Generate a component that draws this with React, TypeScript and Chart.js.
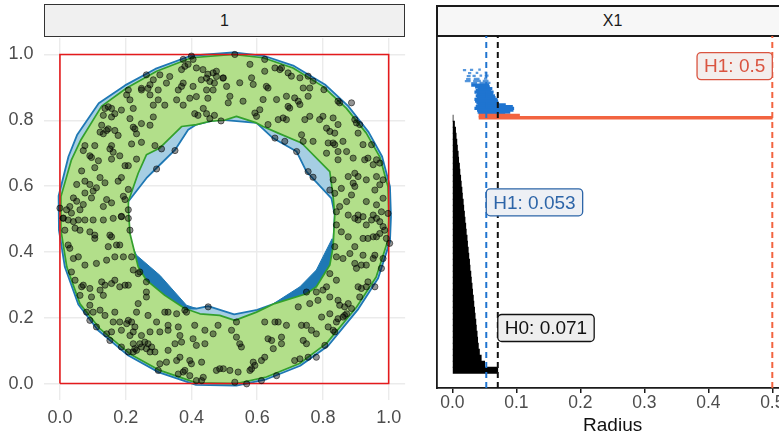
import React, { useEffect, useRef } from 'react';
import { Chart, registerables } from 'chart.js';

Chart.register(...registerables);

const FONT = '"Liberation Sans", Arial, Helvetica, sans-serif';

// ---------- Left panel (facet "1") ----------
const stripLeftText = '1';
const leftTickValues = [0, 0.2, 0.4, 0.6, 0.8, 1.0];
const boundingBox: [number, number][] = [[0, 0], [1, 0], [1, 1], [0, 1], [0, 0]];

const ringPoints: [number, number][] = [
  [0.40, 0.995], [0.375, 0.985], [0.405, 0.985], [0.38, 0.964], [0.39, 0.97], [0.37, 0.954], [0.415, 0.959], [0.435, 0.954],
  [0.45, 0.94], [0.466, 0.944], [0.476, 0.949], [0.496, 0.928], [0.476, 0.933], [0.446, 0.928], [0.43, 0.923], [0.456, 0.918],
  [0.47, 0.913], [0.466, 0.892], [0.446, 0.892], [0.415, 0.872], [0.395, 0.867], [0.45, 0.867], [0.436, 0.836], [0.41, 0.82],
  [0.42, 0.815], [0.446, 0.82], [0.47, 0.815], [0.49, 0.798], [0.456, 0.805], [0.405, 0.903], [0.375, 0.913], [0.37, 0.903],
  [0.36, 0.892], [0.355, 0.862], [0.375, 0.846], [0.334, 0.933], [0.324, 0.913], [0.304, 0.938], [0.284, 0.923], [0.263, 0.938],
  [0.274, 0.908], [0.268, 0.897], [0.248, 0.892], [0.299, 0.892], [0.299, 0.862], [0.319, 0.846], [0.284, 0.846], [0.274, 0.877],
  [0.208, 0.892], [0.203, 0.877], [0.213, 0.862], [0.223, 0.836], [0.187, 0.831], [0.167, 0.82], [0.157, 0.836], [0.147, 0.841],
  [0.137, 0.836], [0.132, 0.815], [0.157, 0.81], [0.127, 0.785], [0.122, 0.764], [0.147, 0.774], [0.142, 0.769], [0.132, 0.759],
  [0.167, 0.769], [0.177, 0.754], [0.213, 0.805], [0.223, 0.779], [0.233, 0.759], [0.228, 0.774], [0.274, 0.785], [0.284, 0.81],
  [0.289, 0.723], [0.309, 0.713], [0.248, 0.733], [0.218, 0.728], [0.157, 0.723], [0.152, 0.713], [0.162, 0.703], [0.182, 0.692],
  [0.157, 0.682], [0.117, 0.677], [0.091, 0.692], [0.096, 0.687], [0.076, 0.723], [0.106, 0.723], [0.071, 0.708], [0.106, 0.656],
  [0.122, 0.626], [0.137, 0.61], [0.111, 0.595], [0.101, 0.585], [0.142, 0.559], [0.177, 0.615], [0.187, 0.626], [0.198, 0.662],
  [0.208, 0.662], [0.233, 0.682], [0.208, 0.59], [0.193, 0.569], [0.198, 0.559], [0.157, 0.549], [0.187, 0.508], [0.091, 0.605],
  [0.076, 0.615], [0.051, 0.605], [0.066, 0.646], [0.076, 0.579], [0.096, 0.564], [0.071, 0.544], [0.041, 0.564], [0.051, 0.554],
  [0.03, 0.538], [0.02, 0.528], [0.0, 0.533], [0.035, 0.518], [0.01, 0.503], [0.061, 0.528], [0.132, 0.538], [0.208, 0.528],
  [0.248, 0.79], [0.248, 0.897], [0.35, 0.708], [0.294, 0.652],
  [0.532, 1.0], [0.497, 0.929], [0.507, 0.903], [0.517, 0.873], [0.512, 0.853], [0.547, 0.914], [0.557, 0.858], [0.583, 0.929],
  [0.588, 0.909], [0.593, 0.822], [0.598, 0.812], [0.608, 0.832], [0.618, 0.863], [0.623, 0.949], [0.628, 0.903], [0.633, 0.898],
  [0.654, 0.959], [0.669, 0.954], [0.674, 0.959], [0.694, 0.944], [0.704, 0.934], [0.73, 0.929], [0.659, 0.863], [0.689, 0.873],
  [0.714, 0.868], [0.725, 0.858], [0.73, 0.848], [0.694, 0.842], [0.699, 0.837], [0.755, 0.873], [0.74, 0.898], [0.76, 0.898],
  [0.77, 0.919], [0.755, 0.934], [0.689, 0.802], [0.679, 0.807], [0.664, 0.802], [0.633, 0.787], [0.745, 0.802], [0.76, 0.812],
  [0.79, 0.802], [0.8, 0.812], [0.811, 0.776], [0.821, 0.766], [0.831, 0.807], [0.836, 0.761], [0.846, 0.787], [0.816, 0.731],
  [0.831, 0.731], [0.836, 0.726], [0.861, 0.736], [0.846, 0.705], [0.872, 0.705], [0.892, 0.685], [0.811, 0.7], [0.846, 0.68],
  [0.735, 0.756], [0.74, 0.736], [0.77, 0.736], [0.654, 0.746], [0.684, 0.736], [0.72, 0.705], [0.623, 0.985], [0.578, 0.97],
  [0.803, 0.893], [0.846, 0.858], [0.851, 0.853], [0.887, 0.853], [0.897, 0.802], [0.902, 0.792], [0.907, 0.761], [0.912, 0.787],
  [0.922, 0.726], [0.948, 0.726], [0.927, 0.68], [0.937, 0.685], [0.963, 0.68], [0.973, 0.67], [0.953, 0.665], [0.897, 0.639],
  [0.907, 0.629], [0.877, 0.629], [0.892, 0.609], [0.897, 0.599], [0.932, 0.619], [0.963, 0.629], [0.983, 0.619], [0.973, 0.604],
  [0.958, 0.588], [0.983, 0.563], [0.963, 0.543], [0.978, 0.522], [0.953, 0.512], [0.932, 0.553], [0.887, 0.573], [0.872, 0.553],
  [0.851, 0.538], [0.841, 0.522], [0.877, 0.512], [0.907, 0.512], [0.856, 0.593], [0.821, 0.588], [0.836, 0.578], [0.922, 0.507],
  [0.998, 0.517], [0.831, 0.619], [0.755, 0.644], [0.77, 0.627],
  [0.01, 0.502], [0.025, 0.497], [0.041, 0.492], [0.056, 0.497], [0.076, 0.497], [0.101, 0.497], [0.132, 0.497], [0.162, 0.502],
  [0.187, 0.507], [0.208, 0.502], [0.015, 0.466], [0.046, 0.472], [0.061, 0.466], [0.091, 0.461], [0.106, 0.451], [0.152, 0.451],
  [0.157, 0.446], [0.182, 0.421], [0.213, 0.466], [0.025, 0.421], [0.03, 0.411], [0.041, 0.38], [0.056, 0.385], [0.106, 0.441],
  [0.147, 0.416], [0.172, 0.421], [0.167, 0.385], [0.193, 0.385], [0.218, 0.385], [0.142, 0.375], [0.111, 0.365], [0.076, 0.36],
  [0.035, 0.339], [0.046, 0.314], [0.066, 0.294], [0.061, 0.268], [0.091, 0.289], [0.096, 0.263], [0.071, 0.299], [0.127, 0.309],
  [0.137, 0.299], [0.157, 0.304], [0.167, 0.314], [0.182, 0.294], [0.198, 0.299], [0.208, 0.299], [0.223, 0.345], [0.238, 0.334],
  [0.243, 0.339], [0.263, 0.309], [0.263, 0.278], [0.263, 0.263], [0.132, 0.268], [0.122, 0.284], [0.091, 0.238], [0.101, 0.217],
  [0.122, 0.223], [0.137, 0.207], [0.167, 0.217], [0.182, 0.187], [0.162, 0.187], [0.157, 0.157], [0.208, 0.192], [0.203, 0.182],
  [0.218, 0.187], [0.228, 0.172], [0.233, 0.217], [0.238, 0.243], [0.268, 0.207], [0.294, 0.187], [0.319, 0.217], [0.329, 0.217],
  [0.355, 0.212], [0.38, 0.223], [0.385, 0.217], [0.41, 0.177], [0.441, 0.162], [0.466, 0.151], [0.481, 0.177], [0.451, 0.233],
  [0.329, 0.162], [0.329, 0.177], [0.36, 0.172], [0.365, 0.146], [0.304, 0.157], [0.274, 0.157], [0.223, 0.157], [0.213, 0.146],
  [0.187, 0.162], [0.248, 0.146], [0.258, 0.126], [0.243, 0.121], [0.228, 0.106], [0.248, 0.111], [0.263, 0.106], [0.274, 0.096],
  [0.289, 0.096], [0.279, 0.111], [0.268, 0.121], [0.233, 0.101], [0.223, 0.096], [0.187, 0.111], [0.152, 0.131], [0.142, 0.151],
  [0.111, 0.172], [0.091, 0.192], [0.081, 0.217], [0.304, 0.06], [0.324, 0.065], [0.355, 0.07], [0.365, 0.08], [0.395, 0.07],
  [0.4, 0.06], [0.431, 0.065], [0.415, 0.116], [0.441, 0.121], [0.405, 0.136], [0.37, 0.126], [0.329, 0.101], [0.35, 0.121],
  [0.38, 0.04], [0.375, 0.035], [0.36, 0.029], [0.395, 0.024], [0.415, 0.009], [0.431, 0.009], [0.436, 0.019], [0.476, 0.04],
  [0.486, 0.045], [0.299, 0.04], [0.208, 0.096], [0.223, 0.121],
  [0.841, 0.482], [0.856, 0.461], [0.877, 0.446], [0.897, 0.502], [0.907, 0.497], [0.932, 0.482], [0.948, 0.497], [0.963, 0.502],
  [0.973, 0.492], [0.983, 0.477], [0.988, 0.466], [0.922, 0.441], [0.937, 0.441], [0.953, 0.446], [0.963, 0.446], [0.973, 0.456],
  [0.993, 0.441], [1.003, 0.426], [0.897, 0.416], [0.882, 0.395], [0.841, 0.385], [0.861, 0.38], [0.836, 0.416], [0.922, 0.39],
  [0.958, 0.39], [0.953, 0.38], [0.983, 0.38], [0.978, 0.35], [0.932, 0.36], [0.917, 0.36], [0.897, 0.365], [0.902, 0.35],
  [0.821, 0.334], [0.841, 0.314], [0.907, 0.294], [0.917, 0.289], [0.932, 0.294], [0.958, 0.294], [0.937, 0.309], [0.912, 0.263],
  [0.811, 0.294], [0.8, 0.284], [0.78, 0.278], [0.75, 0.278], [0.785, 0.253], [0.821, 0.263], [0.846, 0.253], [0.851, 0.238],
  [0.866, 0.233], [0.877, 0.243], [0.887, 0.228], [0.866, 0.207], [0.861, 0.202], [0.872, 0.212], [0.846, 0.197], [0.841, 0.187],
  [0.831, 0.162], [0.836, 0.157], [0.821, 0.212], [0.796, 0.202], [0.816, 0.172], [0.76, 0.243], [0.725, 0.233], [0.735, 0.177],
  [0.75, 0.177], [0.765, 0.162], [0.78, 0.151], [0.74, 0.131], [0.75, 0.121], [0.674, 0.141], [0.674, 0.121], [0.689, 0.177],
  [0.664, 0.187], [0.654, 0.187], [0.623, 0.187], [0.633, 0.136], [0.644, 0.131], [0.649, 0.106], [0.623, 0.08], [0.613, 0.07],
  [0.588, 0.065], [0.583, 0.045], [0.593, 0.055], [0.578, 0.04], [0.547, 0.121], [0.552, 0.111], [0.522, 0.162], [0.537, 0.141],
  [0.714, 0.07], [0.73, 0.075], [0.755, 0.08], [0.78, 0.08], [0.806, 0.116], [0.517, 0.04], [0.497, 0.045], [0.542, 0.035],
  [0.532, 0.004], [0.568, -0.001], [0.613, 0.009], [0.659, 0.024], [0.537, 0.187],
];

const greenOuter: [number, number][] = [
  [0.003, 0.568], [0.035, 0.68], [0.064, 0.741], [0.127, 0.843], [0.203, 0.898], [0.294, 0.949], [0.4, 0.99], [0.527, 1.0],
  [0.618, 0.99], [0.709, 0.959], [0.8, 0.903], [0.871, 0.837], [0.932, 0.761], [0.973, 0.689], [0.998, 0.598], [1.001, 0.507],
  [0.998, 0.436], [0.962, 0.324], [0.902, 0.232], [0.811, 0.122], [0.729, 0.061], [0.628, 0.02], [0.537, 0.0], [0.415, 0.002],
  [0.304, 0.04], [0.213, 0.09], [0.122, 0.166], [0.061, 0.242], [0.021, 0.354], [0.003, 0.466],
];
const greenInner: [number, number][] = [
  [0.213, 0.456], [0.209, 0.52], [0.208, 0.553], [0.238, 0.639], [0.263, 0.695], [0.304, 0.716], [0.37, 0.781], [0.415, 0.787],
  [0.456, 0.797], [0.5, 0.8], [0.537, 0.812], [0.598, 0.792], [0.618, 0.781], [0.664, 0.761], [0.735, 0.731], [0.821, 0.644],
  [0.831, 0.568], [0.836, 0.512], [0.831, 0.416], [0.821, 0.36], [0.78, 0.294], [0.75, 0.273], [0.653, 0.243], [0.598, 0.217],
  [0.532, 0.192], [0.486, 0.207], [0.426, 0.212], [0.38, 0.228], [0.319, 0.268], [0.263, 0.314], [0.238, 0.355],
];
const blueOuter: [number, number][] = [
  [-0.004, 0.57], [0.026, 0.69], [0.052, 0.755], [0.118, 0.852], [0.198, 0.906], [0.29, 0.956], [0.398, 0.996], [0.527, 1.006],
  [0.62, 0.996], [0.712, 0.965], [0.806, 0.909], [0.878, 0.842], [0.939, 0.764], [0.98, 0.69], [1.004, 0.598], [1.007, 0.507],
  [1.004, 0.432], [0.968, 0.32], [0.908, 0.227], [0.816, 0.115], [0.731, 0.054], [0.628, 0.013], [0.537, -0.006], [0.414, -0.004],
  [0.301, 0.034], [0.208, 0.085], [0.116, 0.162], [0.056, 0.24], [0.015, 0.354], [-0.003, 0.466],
];
const blueInner: [number, number][] = [
  [0.205, 0.5], [0.208, 0.553], [0.263, 0.624], [0.294, 0.655], [0.35, 0.71], [0.39, 0.771], [0.415, 0.787], [0.456, 0.797],
  [0.486, 0.802], [0.598, 0.792], [0.648, 0.746], [0.72, 0.705], [0.75, 0.644], [0.826, 0.563], [0.836, 0.512], [0.831, 0.416],
  [0.821, 0.36], [0.78, 0.294], [0.75, 0.273], [0.653, 0.243], [0.6, 0.224], [0.53, 0.21], [0.451, 0.235], [0.415, 0.228],
  [0.38, 0.228], [0.319, 0.268], [0.263, 0.314], [0.238, 0.355], [0.208, 0.451],
];
const darkBlueLeft: [number, number][] = [
  [0.208, 0.451], [0.218, 0.421], [0.233, 0.39], [0.304, 0.329], [0.385, 0.238], [0.415, 0.228], [0.38, 0.228], [0.319, 0.268],
  [0.263, 0.314], [0.238, 0.355],
];
const darkBlueRight: [number, number][] = [
  [0.65, 0.243], [0.73, 0.294], [0.78, 0.345], [0.828, 0.44], [0.831, 0.416], [0.821, 0.36], [0.78, 0.294], [0.75, 0.273],
  [0.653, 0.243],
];

// ---------- Right panel (facet "X1", barcode) ----------
const stripRightText = 'X1';
const rightTickValues = [0, 0.1, 0.2, 0.3, 0.4, 0.5];
const xAxisTitle = 'Radius';
const Y_MIN = -2.95;
const Y_MAX = 55.72;

const h0Death = [
  0.071, 0.0505, 0.0452, 0.0424, 0.0407, 0.0396, 0.0388, 0.0376, 0.0368, 0.0357, 0.0348, 0.0337, 0.0329, 0.0317, 0.0309,
  0.0298, 0.029, 0.0277, 0.027, 0.0258, 0.0249, 0.0238, 0.0231, 0.0218, 0.021, 0.0199, 0.019, 0.0179, 0.0171, 0.0158,
  0.0151, 0.014, 0.0131, 0.0119, 0.0112, 0.0099, 0.0092, 0.008, 0.0071, 0.006, 0.0051, 0.0034, 0.0011,
];

// dense lower H1 bars
const h1Row = [
  42.75, 43.05, 43.35, 43.65, 43.95, 44.25, 44.55, 44.85, 45.15, 45.45, 45.75, 46.05, 46.35, 46.65, 46.95, 47.25, 47.55,
];
const h1Birth = [
  0.042, 0.040, 0.039, 0.035, 0.037, 0.040, 0.038, 0.036, 0.035, 0.039, 0.037, 0.039, 0.035, 0.037, 0.040, 0.036, 0.030,
];
const h1Death = [
  0.082, 0.090, 0.095, 0.096, 0.094, 0.083, 0.072, 0.071, 0.070, 0.067, 0.066, 0.063, 0.064, 0.060, 0.062, 0.058, 0.057,
];
// sparse upper H1 bars
const h1SparseRow = [
  47.85, 47.9, 48.2, 48.22, 48.25, 48.55, 48.57, 48.6, 49.05, 49.07, 49.1, 49.12, 49.55, 49.57, 49.6, 50.05, 50.07, 50.1,
];
const h1SparseBirth = [
  0.030, 0.043, 0.020, 0.033, 0.048, 0.022, 0.034, 0.050, 0.023, 0.032, 0.043, 0.051, 0.025, 0.037, 0.051, 0.017, 0.028, 0.041,
];
const h1SparseDeath = [
  0.038, 0.059, 0.028, 0.044, 0.056, 0.028, 0.042, 0.054, 0.028, 0.036, 0.046, 0.056, 0.029, 0.040, 0.054, 0.021, 0.032, 0.044,
];
const h1MainRow = [42.1, 42.45];
const h1MainBirth = [0.0417, 0.0417];
const h1MainDeath = [0.5, 0.105];

const thresholdValues = [0.053, 0.071, 0.5];
const thresholdColors = ['#1F74D0', '#111111', '#F26440'];
const labelTexts = ['H1: 0.5', 'H1: 0.053', 'H0: 0.071'];
const labelX = [0.5, 0.053, 0.071];
const labelY = [50.7, 28.0, 7.05];
const labelAlign = ['right', 'left', 'left'];
const labelColors = ['#DA5440', '#2D65A8', '#111111'];
const labelFills = ['#F3EEED', '#EDF0F5', '#EEEEEE'];

const polygonPlugin = {
  id: 'complexPolygons',
  beforeDatasetsDraw(chart: any) {
    const { ctx, chartArea, scales } = chart;
    const sx = (v: number) => scales.x.getPixelForValue(v);
    const sy = (v: number) => scales.y.getPixelForValue(v);
    const trace = (pts: [number, number][]) => {
      pts.forEach(([a, b], i) => (i ? ctx.lineTo(sx(a), sy(b)) : ctx.moveTo(sx(a), sy(b))));
      ctx.closePath();
    };
    ctx.save();
    ctx.beginPath();
    ctx.rect(chartArea.left, chartArea.top, chartArea.right - chartArea.left, chartArea.bottom - chartArea.top);
    ctx.clip();
    ctx.lineJoin = 'round';
    ctx.beginPath();
    trace(blueOuter);
    trace(blueInner);
    ctx.fillStyle = '#A6CEE3';
    ctx.fill('evenodd');
    ctx.strokeStyle = '#1F78B4';
    ctx.lineWidth = 1.8;
    ctx.stroke();
    for (const poly of [darkBlueLeft, darkBlueRight]) {
      ctx.beginPath();
      trace(poly);
      ctx.fillStyle = '#1F78B4';
      ctx.fill();
      ctx.strokeStyle = '#1F78B4';
      ctx.lineWidth = 1;
      ctx.stroke();
    }
    ctx.beginPath();
    trace(greenOuter);
    trace(greenInner);
    ctx.fillStyle = '#B2DF8A';
    ctx.fill('evenodd');
    ctx.strokeStyle = '#33A02C';
    ctx.lineWidth = 1.7;
    ctx.stroke();
    ctx.restore();
  },
};

const labelPlugin = {
  id: 'thresholdLabels',
  afterDatasetsDraw(chart: any) {
    const { ctx, scales } = chart;
    ctx.save();
    ctx.font = `19px ${FONT}`;
    ctx.textBaseline = 'middle';
    ctx.textAlign = 'left';
    for (let i = 0; i < labelTexts.length; i++) {
      const px = scales.x.getPixelForValue(labelX[i]);
      const py = scales.y.getPixelForValue(labelY[i]);
      const tw = ctx.measureText(labelTexts[i]).width;
      const w = tw + 14;
      const h = 27;
      const left = labelAlign[i] === 'right' ? px - w : px;
      const top = py - h / 2;
      const r = 4;
      ctx.beginPath();
      ctx.moveTo(left + r, top);
      ctx.lineTo(left + w - r, top);
      ctx.arcTo(left + w, top, left + w, top + r, r);
      ctx.lineTo(left + w, top + h - r);
      ctx.arcTo(left + w, top + h, left + w - r, top + h, r);
      ctx.lineTo(left + r, top + h);
      ctx.arcTo(left, top + h, left, top + h - r, r);
      ctx.lineTo(left, top + r);
      ctx.arcTo(left, top, left + r, top, r);
      ctx.closePath();
      ctx.fillStyle = labelFills[i];
      ctx.fill();
      ctx.strokeStyle = labelColors[i];
      ctx.lineWidth = 1.3;
      ctx.stroke();
      ctx.fillStyle = labelColors[i];
      ctx.fillText(labelTexts[i], left + 7, py + 1);
    }
    ctx.restore();
  },
};

export default function App() {
  const leftRef = useRef<HTMLCanvasElement | null>(null);
  const rightRef = useRef<HTMLCanvasElement | null>(null);

  useEffect(() => {
    Chart.defaults.font.family = FONT;
    const left = new Chart(leftRef.current as HTMLCanvasElement, {
      type: 'scatter',
      data: {
        datasets: [
          {
            data: ringPoints.map(([x, y]) => ({ x, y })),
            pointRadius: 3.1,
            pointBackgroundColor: 'rgba(0,0,0,0.42)',
            pointBorderColor: 'rgba(0,0,0,0.6)',
            pointBorderWidth: 0.9,
            order: 0,
          } as any,
          {
            data: boundingBox.map(([x, y]) => ({ x, y })),
            showLine: true,
            borderColor: '#E41A1C',
            borderWidth: 1.6,
            pointRadius: 0,
            fill: false,
            order: 1,
          } as any,
        ],
      },
      options: {
        responsive: false,
        animation: false,
        events: [],
        layout: { padding: { top: 38, right: 4.5, left: 0, bottom: 0 } },
        plugins: { legend: { display: false }, tooltip: { enabled: false } },
        scales: {
          x: {
            type: 'linear',
            min: -0.05,
            max: 1.05,
            offset: false,
            afterBuildTicks: (s: any) => {
              s.ticks = leftTickValues.map((v) => ({ value: v }));
            },
            afterFit: (s: any) => {
              s.height = 41;
            },
            grid: { color: '#EBEBEB', lineWidth: 1.4, drawTicks: false },
            border: { display: false },
            ticks: {
              padding: 7,
              color: '#4D4D4D',
              font: { size: 18, family: FONT },
              maxRotation: 0,
              autoSkip: false,
              callback: (v: any) => Number(v).toFixed(1),
            },
          },
          y: {
            type: 'linear',
            min: -0.05,
            max: 1.05,
            offset: false,
            afterBuildTicks: (s: any) => {
              s.ticks = leftTickValues.map((v) => ({ value: v }));
            },
            afterFit: (s: any) => {
              s.width = 43.5;
            },
            grid: { color: '#EBEBEB', lineWidth: 1.4, drawTicks: false },
            border: { display: false },
            ticks: {
              padding: 10,
              color: '#4D4D4D',
              font: { size: 18, family: FONT },
              autoSkip: false,
              callback: (v: any) => Number(v).toFixed(1),
            },
          },
        },
      } as any,
      plugins: [polygonPlugin],
    });

    const lineSets = thresholdValues.map((v, i) => ({
      type: 'line',
      indexAxis: 'y',
      data: [
        { x: v, y: Y_MIN },
        { x: v, y: Y_MAX },
      ],
      borderColor: thresholdColors[i],
      borderWidth: 2,
      borderDash: [6, 4],
      pointRadius: 0,
      fill: false,
      order: 0,
    }));

    const right = new Chart(rightRef.current as HTMLCanvasElement, {
      type: 'bar',
      data: {
        datasets: [
          ...lineSets,
          {
            type: 'bar',
            indexAxis: 'y',
            data: h1MainRow.map((r, i) => ({ y: r, x: [h1MainBirth[i], h1MainDeath[i]] })),
            backgroundColor: '#F26440',
            barThickness: 3,
            grouped: false,
            borderWidth: 0,
            order: 1,
          },
          {
            type: 'bar',
            indexAxis: 'y',
            data: h1Row.map((r, i) => ({ y: r, x: [h1Birth[i], h1Death[i]] })),
            backgroundColor: '#1F74D0',
            barThickness: 2.6,
            grouped: false,
            borderWidth: 0,
            order: 2,
          },
          {
            type: 'bar',
            indexAxis: 'y',
            data: h1SparseRow.map((r, i) => ({ y: r, x: [h1SparseBirth[i], h1SparseDeath[i]] })),
            backgroundColor: 'rgba(31,116,208,0.75)',
            barThickness: 1.6,
            grouped: false,
            borderWidth: 0,
            order: 2,
          },
          {
            type: 'bar',
            indexAxis: 'y',
            data: h0Death.map((d, i) => ({ y: i, x: [0, d] })),
            backgroundColor: '#000000',
            barThickness: 6.3,
            grouped: false,
            borderWidth: 0,
            order: 3,
          },
        ] as any,
      },
      options: {
        indexAxis: 'y',
        responsive: false,
        animation: false,
        events: [],
        layout: { padding: { top: 36, right: 0.7, left: 0, bottom: 0 } },
        plugins: { legend: { display: false }, tooltip: { enabled: false } },
        scales: {
          x: {
            type: 'linear',
            min: -0.024,
            max: 0.525,
            offset: false,
            afterBuildTicks: (s: any) => {
              s.ticks = rightTickValues.map((v) => ({ value: v }));
            },
            afterFit: (s: any) => {
              s.height = 53;
            },
            grid: { drawOnChartArea: false, drawTicks: true, tickLength: 5, color: '#1A1A1A', lineWidth: 1.5 },
            border: { display: true, color: '#1A1A1A', width: 1.8 },
            ticks: {
              padding: 0,
              color: '#4D4D4D',
              font: { size: 17.5, family: FONT },
              maxRotation: 0,
              autoSkip: false,
              callback: (v: any) => Number(v).toFixed(1),
            },
            title: {
              display: true,
              text: xAxisTitle,
              color: '#111111',
              font: { size: 19, family: FONT },
              padding: { top: 0, bottom: 4 },
            },
          },
          y: {
            type: 'linear',
            min: Y_MIN,
            max: Y_MAX,
            offset: false,
            afterFit: (s: any) => {
              s.width = 17;
            },
            grid: { display: true, drawOnChartArea: false, drawTicks: false },
            border: { display: true, color: '#1A1A1A', width: 1.8 },
            ticks: { display: false },
          },
        },
      } as any,
      plugins: [labelPlugin],
    });

    return () => {
      left.destroy();
      right.destroy();
    };
  }, []);

  return (
    <div
      style={{
        position: 'fixed',
        left: 0,
        top: 0,
        width: 779,
        height: 441,
        overflow: 'hidden',
        background: '#FFFFFF',
        fontFamily: FONT,
      }}
    >
      <div
        style={{
          position: 'absolute',
          left: 44,
          top: 4,
          width: 361,
          height: 33,
          boxSizing: 'border-box',
          border: '1px solid #333333',
          background: '#F0F0F0',
          color: '#1A1A1A',
          fontSize: 16,
          lineHeight: '31px',
          textAlign: 'center',
        }}
      >
        {stripLeftText}
      </div>
      <div
        style={{
          position: 'absolute',
          left: 436,
          top: 5,
          width: 353,
          height: 32,
          boxSizing: 'border-box',
          border: '2px solid #1A1A1A',
          background: '#F7F7F7',
          color: '#1A1A1A',
          fontSize: 16,
          lineHeight: '28px',
          textAlign: 'center',
        }}
      >
        {stripRightText}
      </div>
      <canvas
        ref={leftRef}
        width={410}
        height={441}
        style={{ position: 'absolute', left: 0, top: 0, width: 410, height: 441 }}
      />
      <canvas
        ref={rightRef}
        width={369}
        height={441}
        style={{ position: 'absolute', left: 420, top: 0, width: 369, height: 441 }}
      />
    </div>
  );
}
